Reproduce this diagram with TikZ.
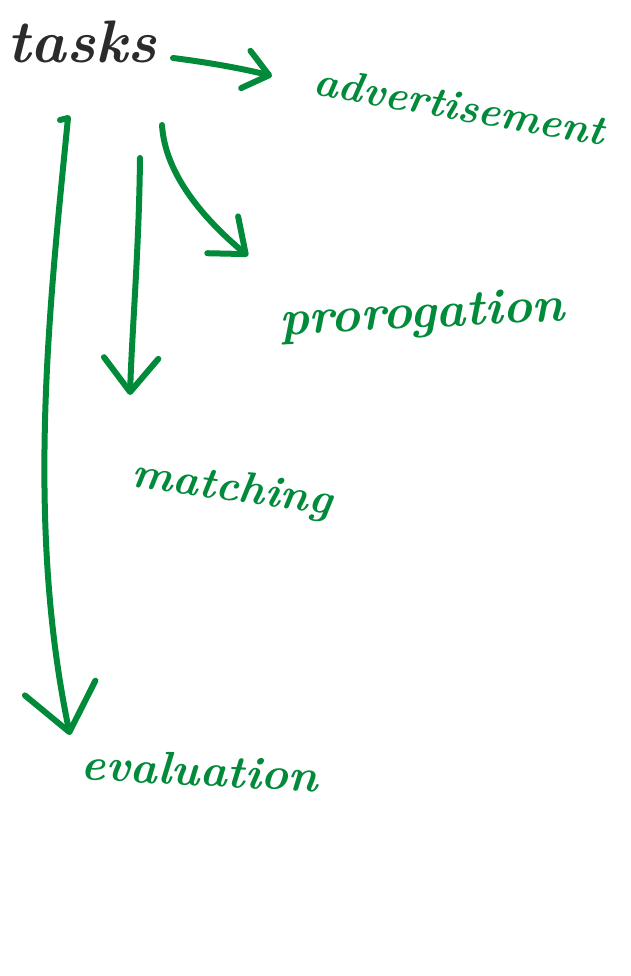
\documentclass[tikz,border=0pt]{standalone}
\usetikzlibrary{arrows.meta}
\definecolor{pen}{HTML}{008A3A}
\definecolor{ink}{HTML}{2B2B2B}
\begin{document}
\begin{tikzpicture}[x=1pt,y=-1pt,
  word/.style={inner sep=0pt,text=pen},
  stroke/.style={draw=pen,line width=6pt,line cap=round,line join=round},
  barb/.style={-{Straight Barb[length=#1,width=1.6*#1,line cap=round,line join=round]}}]
\useasboundingbox (0,0) rectangle (630,976);
\node[inner sep=0pt,text=ink,font=\fontsize{60}{60}\selectfont\bfseries\itshape] (tasks) at (82,42) {tasks};
\node[word,font=\fontsize{42}{42}\selectfont\bfseries\itshape,rotate=-10] (adv) at (460,106) {advertisement};
\node[word,font=\fontsize{50}{50}\selectfont\bfseries\itshape,rotate=3] (pro) at (422,316) {prorogation};
\node[word,font=\fontsize{44}{44}\selectfont\bfseries\itshape,rotate=-8] (mat) at (232,490) {matching};
\node[word,font=\fontsize{46}{46}\selectfont\bfseries\itshape,rotate=-3] (eva) at (200,770) {evaluation};
\coordinate (a1) at (173,58);
\coordinate (a2) at (272,76);
\coordinate (b1) at (162,125);
\coordinate (b2) at (248,256);
\coordinate (c1) at (140,158);
\coordinate (c2) at (130,395);
\coordinate (d0) at (60,120);
\coordinate (d1) at (68,118);
\coordinate (d2) at (70,735);
\draw[stroke,barb=24pt] (a1) .. controls (205,62) and (240,68) .. (a2);
\draw[stroke,barb=30pt] (b1) .. controls (165,175) and (205,220) .. (b2);
\draw[stroke,barb=34pt] (c1) .. controls (139,250) and (132,330) .. (c2);
\draw[stroke,barb=45pt] (d0) -- (d1) .. controls (50,300) and (25,520) .. (d2);
\end{tikzpicture}
\end{document}
